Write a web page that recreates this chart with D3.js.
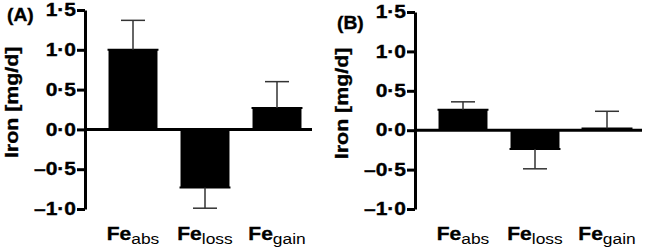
<!DOCTYPE html>
<html>
<head>
<meta charset="utf-8">
<script src="https://cdn.jsdelivr.net/npm/d3@7"></script>
<style>
  body { margin: 0; background: #fff; }
  text { font-family: "Liberation Sans", Arial, sans-serif; }
  .heavy { stroke: #000; stroke-width: 0.35px; }
</style>
</head>
<body>
<div id="chart"></div>
<script>
const categories = ["abs", "loss", "gain"];
const panelNames = ["(A)", "(B)"];
const yTicks = [-1.0, -0.5, 0.0, 0.5, 1.0, 1.5];
// bar values and the end of each error bar, per panel
const meansA = [1.0, -0.73, 0.27];
const errEndA = [1.37, -0.99, 0.6];
const meansB = [0.26, -0.24, 0.02];
const errEndB = [0.36, -0.49, 0.24];

const width = 645, height = 251;
const stretch = 1.2;   // the original lettering is wide, so stretch it sideways
const svg = d3.select("#chart").append("svg")
    .attr("width", width)
    .attr("height", height);

const fmt = function (v) {
    return d3.format(".1f")(v).replace(".", "\u00b7").replace("\u2212", "\u2013").replace("-", "\u2013");
};

function drawPanel(offsetX, topY, name, means, errEnd, nameY) {
    const axisX = 85;
    const g = svg.append("g").attr("transform", `translate(${offsetX},0)`);

    const y = d3.scaleLinear().domain([-1, 1.5]).range([209, topY]);
    const x = d3.scaleBand().domain(categories)
        .range([axisX + 12, axisX + 12 + 216])
        .paddingInner(0.32).paddingOuter(0.16);

    // bars
    g.selectAll("rect.bar").data(means).join("rect")
        .attr("class", "bar")
        .attr("x", (d, i) => x(categories[i]))
        .attr("width", x.bandwidth())
        .attr("y", d => y(Math.max(0, d)))
        .attr("height", d => Math.abs(y(d) - y(0)))
        .attr("fill", "#000");

    // small lip at the bar end
    g.selectAll("line.lip").data(means).join("line")
        .attr("class", "lip")
        .attr("x1", (d, i) => x(categories[i]) - 1)
        .attr("x2", (d, i) => x(categories[i]) + x.bandwidth() + 1)
        .attr("y1", d => y(d)).attr("y2", d => y(d))
        .attr("stroke", "#000").attr("stroke-width", 2);

    // error bars
    const cx = i => x(categories[i]) + x.bandwidth() / 2;
    g.selectAll("line.err").data(errEnd).join("line")
        .attr("class", "err")
        .attr("x1", (d, i) => cx(i)).attr("x2", (d, i) => cx(i))
        .attr("y1", (d, i) => y(means[i])).attr("y2", d => y(d))
        .attr("stroke", "#333").attr("stroke-width", 1.5);
    g.selectAll("line.cap").data(errEnd).join("line")
        .attr("class", "cap")
        .attr("x1", (d, i) => cx(i) - 12).attr("x2", (d, i) => cx(i) + 12)
        .attr("y1", d => y(d)).attr("y2", d => y(d))
        .attr("stroke", "#333").attr("stroke-width", 1.5);

    // zero line
    g.append("line")
        .attr("x1", axisX).attr("x2", axisX + 227)
        .attr("y1", y(0)).attr("y2", y(0))
        .attr("stroke", "#000").attr("stroke-width", 3);

    // y axis
    const axis = g.append("g")
        .attr("transform", `translate(${axisX},0)`)
        .call(d3.axisLeft(y).tickValues(yTicks).tickFormat(fmt).tickSize(8).tickSizeOuter(0).tickPadding(2));
    axis.select(".domain").attr("stroke-width", 3).attr("stroke", "#000");
    axis.selectAll(".tick line").attr("stroke-width", 3).attr("stroke", "#000");
    axis.selectAll(".tick text")
        .attr("class", "heavy")
        .attr("x", 0)
        .attr("transform", `translate(-9,0) scale(${stretch},1)`)
        .attr("font-size", 17.5).attr("font-weight", "bold").attr("fill", "#000")
        .attr("font-family", "Liberation Sans, Arial, sans-serif");

    // category labels
    const lab = g.selectAll("text.cat").data(categories).join("text")
        .attr("class", "cat")
        .attr("transform", d => `translate(${x(d) + x.bandwidth() / 2},240) scale(${stretch},1)`)
        .attr("text-anchor", "middle");
    lab.append("tspan").text("Fe").attr("class", "heavy").attr("font-size", 17.5).attr("font-weight", "bold");
    lab.append("tspan").text(d => d).attr("font-size", 14.5).attr("dy", 4);

    // y label
    g.append("text")
        .attr("class", "heavy")
        .attr("transform", `translate(18,${y(0.34)}) rotate(-90) scale(1.22,1)`)
        .attr("text-anchor", "middle")
        .attr("font-size", 17.5).attr("font-weight", "bold")
        .text("Iron [mg/d]");

    // panel label
    g.append("text")
        .attr("class", "heavy")
        .attr("transform", `translate(7,${nameY}) scale(1.1,1)`)
        .attr("font-size", 17.5).attr("font-weight", "bold")
        .text(name);
}

drawPanel(0, 10, panelNames[0], meansA, errEndA, 21);
drawPanel(330, 12, panelNames[1], meansB, errEndB, 29);
</script>
</body>
</html>
